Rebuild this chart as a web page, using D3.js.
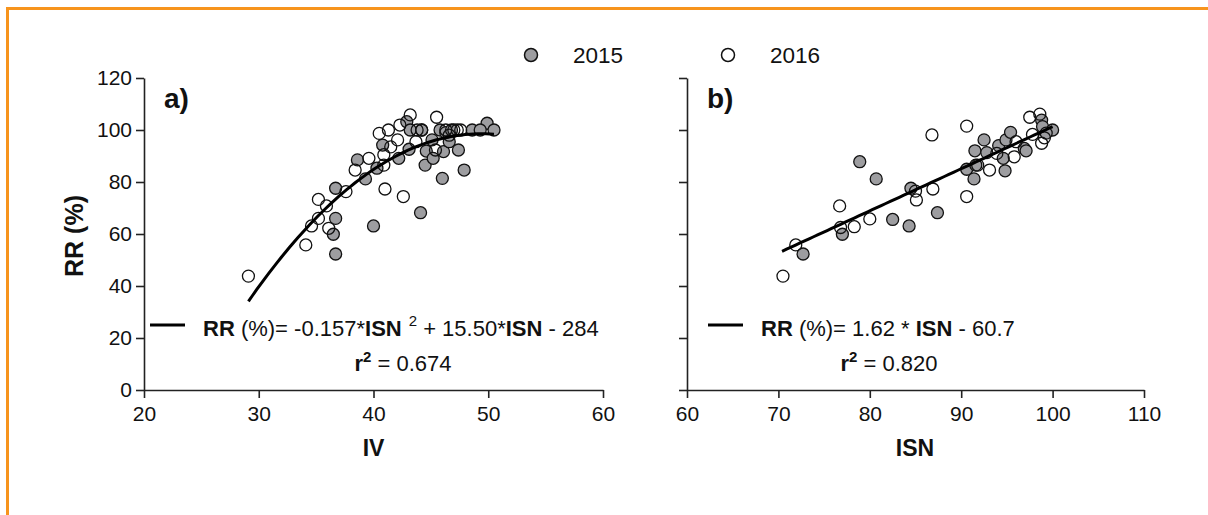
<!DOCTYPE html>
<html>
<head>
<meta charset="utf-8">
<script src="https://cdn.jsdelivr.net/npm/d3@7"></script>
<style>
  body { margin: 0; background: #fff; }
  text { font-family: "Liberation Sans", Arial, sans-serif; fill: #111; }
</style>
</head>
<body>
<svg id="chart" width="1208" height="515"></svg>
<script>
// panel a: IV vs RR, panel b: ISN vs RR  -- [x, RR]
let panelA2015 = [[36.7,77.6],[36.7,66.0],[36.5,59.9],[36.7,52.3],[40.0,63.1],[44.1,68.2],[46.0,81.4],[47.9,84.6],
    [38.6,88.5],[39.3,81.2],[40.3,85.3],[40.8,94.2],[42.2,89.1],[43.1,92.6],[42.9,103.2],[43.2,100],[44.5,86.5],
    [44.6,91.9],[45.1,96.2],[45.2,89.1],[46.1,91.7],[46.6,95.5],[45.8,100],[46.3,99],[46.8,100],[47.4,92.3],
    [48.6,100],[49.9,102.6],[50.5,100],[49.3,100],[44.2,100]];
let panelA2016 = [[29.1,43.8],[34.1,55.8],[34.6,63.1],[35.2,66],[35.2,73.3],[35.9,70.8],[36.1,62.2],[37.6,76.3],
    [38.4,84.6],[39.6,89.1],[40.5,98.7],[41.0,77.3],[40.9,86.5],[41.3,100],[42.1,96.2],[42.3,101.9],[42.6,74.4],
    [43.2,105.8],[43.7,95.5],[45.5,104.9],[45.4,92.3],[46.3,100],[46.6,98],[47.0,100],[47.3,100],[47.6,100],
    [43.8,100],[44.2,100],[40.9,90.5],[41.5,93.5]];
let panelB2015 = [[72.7,52.3],[77.0,59.9],[78.9,87.8],[80.7,81.2],[82.5,65.6],[84.3,63.1],[84.5,77.6],[87.4,68.2],
    [90.6,84.9],[91.4,81.2],[91.5,92.0],[92.5,96.2],[92.8,91.3],[91.6,86.5],[94.1,94.0],[94.6,89.1],[94.9,96.2],
    [95.4,99.1],[94.8,84.3],[96.9,92.9],[97.1,92.0],[98.8,103.8],[98.9,101.3],[100,100],[99.3,98.8]];
let panelB2016 = [[70.5,43.8],[71.9,55.8],[76.8,62.5],[76.7,70.8],[78.3,62.8],[80.0,65.8],[85.1,73.1],[85.0,76.5],
    [86.9,77.3],[86.8,98.1],[90.6,101.5],[90.6,74.4],[91.8,86.5],[93.1,84.6],[93.9,91.0],[96.0,95.5],[95.8,89.7],
    [97.5,104.9],[98.6,106.1],[97.8,98.3],[98.8,94.9],[99.1,97]];

let yTicks = [0, 20, 40, 60, 80, 100, 120];
let xTicksA = [20, 30, 40, 50, 60];
let xTicksB = [60, 70, 80, 90, 100, 110];
let legendYears = ["2015", "2016"];

// fitted curves
function fitA(x) { return -0.157 * x * x + 15.50 * x - 284; }
function fitB(x) { return 1.62 * x - 60.7; }

let svg = d3.select("#chart");

// orange frame
svg.append("path")
    .attr("d", "M7.5,515V8.5H1208")
    .style("fill", "none")
    .style("stroke", "#f7941d")
    .style("stroke-width", 3);

let y = d3.scaleLinear().domain([0, 120]).range([390, 78]);

let panels = [
    {x0: 144, x1: 603, dom: [20, 60], ticks: xTicksA, showY: true, label: "a)", title: "IV",
     d15: panelA2015, d16: panelA2016, fit: fitA, fitDom: [29.1, 50.5], legX: 150},
    {x0: 687, x1: 1144, dom: [60, 110], ticks: xTicksB, showY: false, label: "b)", title: "ISN",
     d15: panelB2015, d16: panelB2016, fit: fitB, fitDom: [70.4, 100], legX: 708}
];

panels.forEach(function (p, pi) {
    let x = d3.scaleLinear().domain(p.dom).range([p.x0, p.x1]);
    let g = svg.append("g");

    let xAxis = g.append("g")
        .attr("transform", "translate(0,390)")
        .call(d3.axisBottom(x).tickValues(p.ticks).tickSize(8).tickSizeOuter(0));
    xAxis.selectAll("text").style("font-size", "21px").attr("dy", "0.95em");

    let yAxis = g.append("g")
        .attr("transform", "translate(" + p.x0 + ",0)")
        .call(d3.axisLeft(y).tickValues(yTicks).tickSize(8).tickSizeOuter(0)
            .tickFormat(p.showY ? d3.format("d") : function () { return ""; }));
    yAxis.selectAll("text").style("font-size", "21px").attr("x", -12);

    svg.selectAll(".domain").style("stroke", "#222").style("stroke-width", 1.6);
    svg.selectAll(".tick line").style("stroke", "#222").style("stroke-width", 1.6);

    // fit line
    let line = d3.line()
        .x(function (d) { return x(d); })
        .y(function (d) { return y(p.fit(d)); });
    let pts = d3.range(0, 61).map(function (i) { return p.fitDom[0] + (p.fitDom[1] - p.fitDom[0]) * i / 60; });

    g.selectAll(".p15").data(p.d15).enter().append("circle")
        .attr("cx", function (d) { return x(d[0]); })
        .attr("cy", function (d) { return y(d[1]); })
        .attr("r", 6)
        .style("fill", "#9d9da0")
        .style("stroke", "#111")
        .style("stroke-width", 1.3);

    g.selectAll(".p16").data(p.d16).enter().append("circle")
        .attr("cx", function (d) { return x(d[0]); })
        .attr("cy", function (d) { return y(d[1]); })
        .attr("r", 6)
        .style("fill", "none")
        .style("stroke", "#111")
        .style("stroke-width", 1.3);

    g.append("path")
        .datum(pts)
        .attr("d", line)
        .style("fill", "none")
        .style("stroke", "#000")
        .style("stroke-width", 3);

    // panel label
    g.append("text")
        .attr("x", p.x0 + 20).attr("y", 108)
        .style("font-size", "28px").style("font-weight", "bold")
        .text(p.label);

    // axis title
    g.append("text")
        .attr("x", (p.x0 + p.x1) / 2 + (pi == 0 ? 0 : -0.5)).attr("y", 456)
        .attr("text-anchor", "middle")
        .style("font-size", "23px").style("font-weight", "bold")
        .text(p.title);

    // equation legend
    g.append("line")
        .attr("x1", p.legX).attr("x2", p.legX + 35)
        .attr("y1", 325).attr("y2", 325)
        .style("stroke", "#000").style("stroke-width", 3);

    let eq = g.append("text")
        .attr("x", p.legX + 53).attr("y", 336)
        .style("font-size", "22px");
    eq.append("tspan").style("font-weight", "bold").text("RR");
    if (pi == 0) {
        eq.append("tspan").text(" (%)= -0.157*");
        eq.append("tspan").style("font-weight", "bold").text("ISN");
        eq.append("tspan").attr("dx", 7).attr("dy", -10).style("font-size", "15px").text("2");
        eq.append("tspan").attr("dy", 10).text(" + 15.50*");
        eq.append("tspan").style("font-weight", "bold").text("ISN");
        eq.append("tspan").text(" - 284");
    } else {
        eq.append("tspan").text(" (%)= 1.62 * ");
        eq.append("tspan").style("font-weight", "bold").text("ISN");
        eq.append("tspan").text(" - 60.7");
    }

    let r2 = g.append("text")
        .attr("x", pi == 0 ? 403 : 889).attr("y", 371)
        .attr("text-anchor", "middle")
        .style("font-size", "22px");
    r2.append("tspan").style("font-weight", "bold").text("r");
    r2.append("tspan").attr("dy", -9).style("font-size", "15px").style("font-weight", "bold").text("2");
    r2.append("tspan").attr("dy", 9).text(" = " + (pi == 0 ? "0.674" : "0.820"));
});

// y axis title
svg.append("text")
    .attr("transform", "translate(83,236) rotate(-90)")
    .attr("text-anchor", "middle")
    .style("font-size", "25px").style("font-weight", "bold")
    .text("RR (%)");

// legend
let legend = svg.selectAll(".leg").data(legendYears).enter().append("g")
    .attr("transform", function (d, i) { return "translate(" + (531 + i * 197) + ",55)"; });
legend.append("circle")
    .attr("r", 6.5)
    .style("fill", function (d, i) { return i == 0 ? "#9d9da0" : "#fff"; })
    .style("stroke", "#111")
    .style("stroke-width", 1.5);
legend.append("text")
    .attr("x", 42).attr("y", 8)
    .style("font-size", "22.5px")
    .text(function (d) { return d; });
</script>
</body>
</html>
